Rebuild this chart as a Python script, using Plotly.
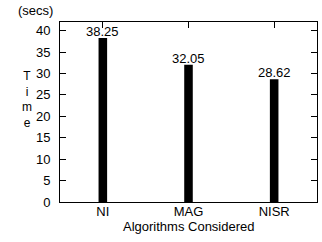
import plotly.graph_objects as go

categories = ["NI", "MAG", "NISR"]
times = [38.25, 32.05, 28.62]
labels = ["38.25", "32.05", "28.62"]
y_ticks = [0, 5, 10, 15, 20, 25, 30, 35, 40]

W, H = 322, 242
l, r, t, b = 60, 5, 22, 40
pw, ph = W - l - r, H - t - b

def px2paper(px, py):
    return (px - l) / pw, 1 - (py - t) / ph

fig = go.Figure()
fig.add_trace(go.Bar(
    x=categories, y=times, width=0.1,
    marker=dict(color="black", line=dict(width=0)),
    cliponaxis=False,
))

axis_common = dict(
    showline=True, linecolor="black", linewidth=1, mirror="ticks",
    ticks="inside", ticklen=6, tickcolor="black", showgrid=False,
    zeroline=False, tickfont=dict(size=13, color="black"), automargin=False,
)
anns = []
for txt, (px, py), fs in [("(secs)", (35, 10), 13), ("T<br>i<br>m<br>e", (27, 99), 12),
                          ("Algorithms Considered", (188.5, 226), 13)]:
    ax, ay = px2paper(px, py)
    anns.append(dict(text=txt, x=ax, y=ay, xref="paper", yref="paper",
                     showarrow=False, xanchor="center", yanchor="middle",
                     font=dict(size=fs, color="black")))
for c, v, s in zip(categories, times, labels):
    anns.append(dict(text=s, x=c, y=v, xref="x", yref="y", showarrow=False,
                     xanchor="center", yanchor="bottom", yshift=-3,
                     font=dict(size=13, color="black")))

fig.update_layout(
    width=W, height=H,
    margin=dict(l=l, r=r, t=t, b=b, autoexpand=False),
    plot_bgcolor="white", paper_bgcolor="white",
    font=dict(family="Liberation Sans, Arial, sans-serif", size=13, color="black"),
    showlegend=False,
    xaxis=dict(range=[-0.5, 2.5], ticklabelstandoff=-3, **axis_common),
    yaxis=dict(range=[0, 42], tickvals=y_ticks, ticklabelstandoff=6, **axis_common),
    annotations=anns,
)
fig.write_html("out.html", config={"displayModeBar": False},
               post_script="document.body.style.margin='0';")
